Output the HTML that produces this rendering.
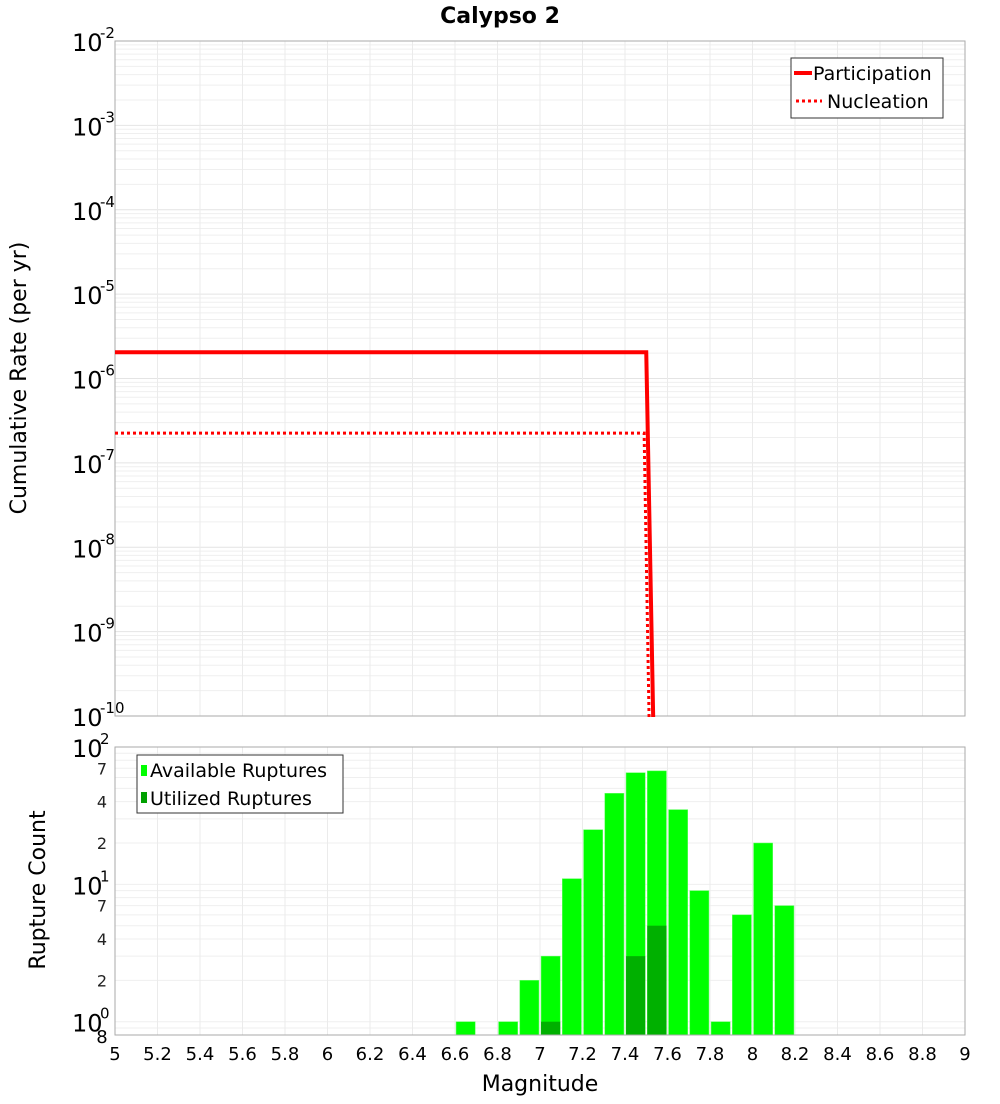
<!DOCTYPE html>
<html><head><meta charset="utf-8"><style>
body{margin:0;background:#fff;font-family:"DejaVu Sans","Liberation Sans",sans-serif}
svg text{font-family:"DejaVu Sans","Liberation Sans",sans-serif}
</style></head><body>
<svg id="c" width="1000" height="1100" xmlns="http://www.w3.org/2000/svg">
<text x="500" y="23" text-anchor="middle" font-size="22" font-weight="bold">Calypso 2</text>
<text transform="translate(26,378) rotate(-90)" text-anchor="middle" font-size="22">Cumulative Rate (per yr)</text>
<text transform="translate(45,890) rotate(-90)" text-anchor="middle" font-size="22">Rupture Count</text>
<text x="540" y="1091" text-anchor="middle" font-size="22">Magnitude</text>
<g id="g"></g>
</svg>
<script>
const partM=[5,7.5,7.54];
const partR=[2.05e-6,2.05e-6,1e-11];
const nuclM=[5,7.49,7.52];
const nuclR=[2.25e-7,2.25e-7,1e-11];
const binCenters=[6.65,6.85,6.95,7.05,7.15,7.25,7.35,7.45,7.55,7.65,7.75,7.85,7.95,8.05,8.15];
const available=[1,1,2,3,11,25,46,65,67,35,9,1,6,20,7];
const utilized=[0,0,0,1,0,0,0,3,5,0,0,0,0,0,0];
const xTicks=[5,5.2,5.4,5.6,5.8,6,6.2,6.4,6.6,6.8,7,7.2,7.4,7.6,7.8,8,8.2,8.4,8.6,8.8,9];
const topExp=[-2,-3,-4,-5,-6,-7,-8,-9,-10];
const botMinorLabels=[2,4,7];
const NS="http://www.w3.org/2000/svg";
const g=document.getElementById('g');
function el(t,a,p){const e=document.createElementNS(NS,t);for(const k in a)e.setAttribute(k,a[k]);(p||g).appendChild(e);return e;}
const L=115,R=965;
const x=m=>L+(m-5)/4*(R-L);
const T0=41,T1=716;
const yT=v=>T0+(-2-Math.log10(v))/8*(T1-T0);
const B0=747,B1=1035,bMin=0.8,bMax=100;
const yB=v=>B0+(Math.log10(bMax)-Math.log10(v))/(Math.log10(bMax)-Math.log10(bMin))*(B1-B0);
// top grid
for(let e=-10;e<-2;e++)for(let k=1;k<10;k++){const yy=yT(k*Math.pow(10,e));const l=el('line',{x1:L,x2:R,y1:yy,y2:yy,stroke:k==1?'#e4e4e4':'#efefef','stroke-width':1});}
xTicks.forEach(t=>{const l=el('line',{x1:x(t),x2:x(t),y1:T0,y2:T1,stroke:'#ebebeb'});});
// bottom grid
[0.8,0.9,1,2,3,4,5,6,7,8,9,10,20,30,40,50,60,70,80,90].forEach(v=>{const yy=yB(v);const l=el('line',{x1:L,x2:R,y1:yy,y2:yy,stroke:'#efefef'});});
xTicks.forEach(t=>{const l=el('line',{x1:x(t),x2:x(t),y1:B0,y2:B1,stroke:'#ebebeb'});});
// top frames
let f=el('rect',{x:L,y:T0,width:R-L,height:T1-T0,fill:'none',stroke:'#aaa'});
// lines
function poly(M,Rr,dash,name){const pts=M.map((m,i)=>x(m)+','+Math.min(yT(Rr[i]),T1+20)).join(' ');const p=el('polyline',{points:pts,fill:'none',stroke:'#ff0000','stroke-width':dash?3:4,'stroke-dasharray':dash?'3,3':'none'});}
const clip=el('clipPath',{id:'tc'});el('rect',{x:L,y:T0,width:R-L,height:T1-T0+1},clip);
const lg=el('g',{'clip-path':'url(#tc)'});
{const pts=partM.map((m,i)=>x(m)+','+yT(partR[i])).join(' ');const p=el('polyline',{points:pts,fill:'none',stroke:'#ff0000','stroke-width':4},lg);}
{const pts=nuclM.map((m,i)=>x(m)+','+yT(nuclR[i])).join(' ');const p=el('polyline',{points:pts,fill:'none',stroke:'#ff0000','stroke-width':3,'stroke-dasharray':'3,3'},lg);}
// top y labels
topExp.forEach(e=>{const yy=yT(Math.pow(10,e));const t=el('text',{x:72,y:yy+10,'font-size':24});t.textContent='10';const s=el('text',{x:100,y:yy-3,'font-size':15});s.textContent=String(e);});
// top legend
const lgd=el('g',{});
el('rect',{x:791,y:58,width:152,height:60,fill:'#fff',stroke:'#333'},lgd);
el('line',{x1:794,x2:812,y1:73,y2:73,stroke:'#f00','stroke-width':4},lgd);
el('line',{x1:796,x2:822,y1:101,y2:101,stroke:'#f00','stroke-width':3,'stroke-dasharray':'3,3'},lgd);
let t1=el('text',{x:813,y:80,'font-size':19},lgd);t1.textContent='Participation';
let t2=el('text',{x:827,y:108,'font-size':19},lgd);t2.textContent='Nucleation';
// bars
const bw=0.09;
binCenters.forEach((c,i)=>{if(available[i]>0){const yy=yB(available[i]);const b=el('rect',{x:x(c-bw/2),y:yy,width:x(c+bw/2)-x(c-bw/2),height:B1-yy,fill:'#00ff00',stroke:'#66ff66','stroke-width':0.5});}
if(utilized[i]>0){const yy=yB(utilized[i]);const b=el('rect',{x:x(c-bw/2),y:yy,width:x(c+bw/2)-x(c-bw/2),height:B1-yy,fill:'#00b000'});}});
f=el('rect',{x:L,y:B0,width:R-L,height:B1-B0,fill:'none',stroke:'#aaa'});
// bottom y labels
[2,1,0].forEach(e=>{const yy=yB(Math.pow(10,e));const t=el('text',{x:72,y:yy+10,'font-size':24});t.textContent='10';const s=el('text',{x:100,y:yy-3,'font-size':15});s.textContent=String(e);});
[1,10].forEach(d=>botMinorLabels.forEach(k=>{const t=el('text',{x:102,y:yB(k*d)+6,'font-size':16,fill:'#222','text-anchor':'middle'});t.textContent=String(k);}));
{const t=el('text',{x:102,y:yB(0.8)+8,'font-size':18,'text-anchor':'middle'});t.textContent='8';}
// x labels
xTicks.forEach(tk=>{const t=el('text',{x:x(tk),y:1060,'font-size':18,'text-anchor':'middle'});t.textContent=String(tk);});
// bottom legend
const bl=el('g',{});
el('rect',{x:137,y:755,width:206,height:58,fill:'#fff',stroke:'#333'},bl);
el('rect',{x:141,y:765,width:6,height:11,fill:'#00ff00'},bl);
el('rect',{x:141,y:792,width:6,height:11,fill:'#00a000'},bl);
let b1=el('text',{x:150,y:777,'font-size':19},bl);b1.textContent='Available Ruptures';
let b2=el('text',{x:150,y:805,'font-size':19},bl);b2.textContent='Utilized Ruptures';
</script>
</body></html>
